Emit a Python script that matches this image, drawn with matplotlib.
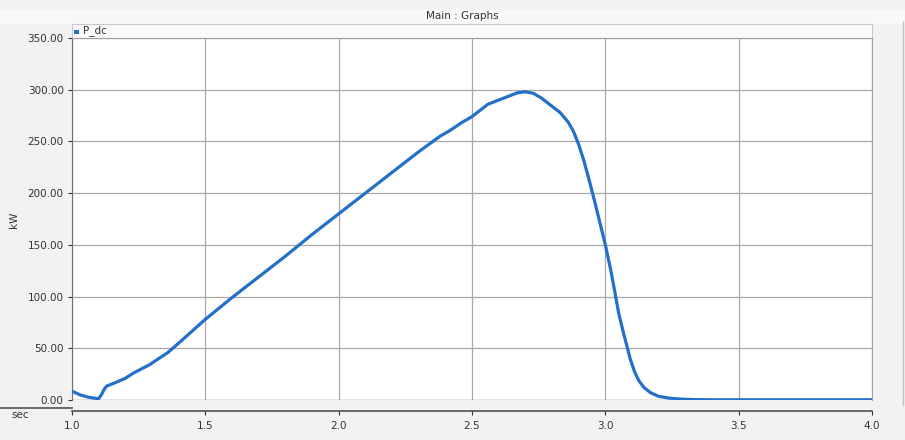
import matplotlib
matplotlib.use("Agg")
import matplotlib.pyplot as plt
from matplotlib.lines import Line2D
from matplotlib.patches import Rectangle

# DC power trace (time in s, power in kW)
t_sec = [1.00, 1.03, 1.06, 1.09, 1.10, 1.11, 1.12, 1.13, 1.16, 1.20, 1.23, 1.29,
         1.36, 1.40, 1.50, 1.60, 1.70, 1.80, 1.90, 2.00, 2.10, 2.20, 2.30, 2.38,
         2.42, 2.46, 2.50, 2.53, 2.56, 2.60, 2.64, 2.67, 2.70, 2.73, 2.76, 2.80,
         2.83, 2.86, 2.88, 2.90, 2.92, 2.94, 2.96, 2.98, 3.00, 3.02, 3.036, 3.05,
         3.065, 3.08, 3.093, 3.11, 3.125, 3.145, 3.17, 3.20, 3.24, 3.28, 3.33, 3.40,
         4.00]
p_dc = [8.5, 5.0, 2.8, 1.5, 1.3, 5.0, 10.0, 13.5, 16.5, 21.0, 26.0, 34.0,
        46.0, 55.0, 78.0, 99.0, 119.0, 139.0, 160.0, 180.0, 200.0, 220.0, 240.0, 255.0,
        261.0, 268.0, 274.0, 280.0, 286.0, 290.0, 294.0, 297.0, 298.0, 296.5, 292.0, 284.0,
        278.0, 269.0, 260.0, 247.0, 231.0, 212.0, 192.0, 171.0, 150.0, 126.0, 104.0, 84.0,
        68.0, 53.0, 40.0, 27.0, 19.0, 12.0, 7.0, 3.5, 1.8, 0.9, 0.4, 0.2,
        0.2]

x_ticks = [1.0, 1.5, 2.0, 2.5, 3.0, 3.5, 4.0]
y_ticks = [0, 50, 100, 150, 200, 250, 300, 350]

W, H = 905, 440
fig = plt.figure(figsize=(W / 100, H / 100), dpi=100, facecolor="#f2f2f2")

def fx(px):
    return px / W

def fy(py):
    return 1 - py / H

# title strip and legend strip
fig.patches.append(Rectangle((0, fy(24)), 1, fy(10) - fy(24), transform=fig.transFigure,
                             facecolor="#f8f8f8", edgecolor="none", zorder=-2))
fig.patches.append(Rectangle((fx(72), fy(38)), fx(872) - fx(72), fy(24) - fy(38),
                             transform=fig.transFigure, facecolor="#fafafa",
                             edgecolor="#c8c8c8", linewidth=0.8, zorder=-1))
fig.text(fx(462), fy(16), "Main : Graphs", ha="center", va="center",
         fontsize=7.5, color="#333333")

ax = fig.add_axes([fx(72), fy(400), fx(872) - fx(72), fy(38) - fy(400)])
ax.set_facecolor("white")
ax.plot(t_sec, p_dc, color="#2470c8", linewidth=2.3, solid_capstyle="round",
        solid_joinstyle="round", zorder=3)

ax.set_xlim(1.0, 4.0)
ax.set_ylim(0, 350)
ax.set_xticks(x_ticks)
ax.set_xticklabels([f"{v:.1f}" for v in x_ticks])
ax.set_yticks(y_ticks)
ax.set_yticklabels([f"{v:.2f}" for v in y_ticks])
ax.grid(True, color="#a8a8a8", linewidth=0.9)
ax.set_axisbelow(True)

for side in ("top", "right"):
    ax.spines[side].set_color("#a0a0a0")
ax.spines["left"].set_color("#707070")
ax.spines["bottom"].set_position(("outward", 8))
ax.spines["bottom"].set_color("#505050")
ax.spines["bottom"].set_linewidth(1.2)
ax.axhline(0, color="#a0a0a0", linewidth=1.0, zorder=2)

ax.tick_params(axis="both", labelsize=7.5, colors="#333333", length=3, width=0.8)
ax.tick_params(axis="x", pad=4)
ax.tick_params(axis="y", pad=3)

# extension of the time axis to the left edge
fig.add_artist(Line2D([0, fx(72)], [fy(408), fy(408)], color="#505050", linewidth=1.2))
fig.add_artist(Line2D([fx(903), fx(903)], [fy(22), fy(405)], color="#c0c0c0", linewidth=1.0))
fig.text(fx(20), fy(415), "sec", ha="center", va="center", fontsize=7.5, color="#333333")
fig.text(fx(14), fy(220), "kW", ha="center", va="center", rotation=90,
         fontsize=7.5, color="#333333")

# legend entry
fig.patches.append(Rectangle((fx(74), fy(34)), fx(5), fy(30) - fy(34), transform=fig.transFigure,
                             facecolor="#2470c8", edgecolor="none"))
fig.text(fx(83), fy(31), "P_dc", ha="left", va="center", fontsize=7.5, color="#333333")

fig.savefig("out.png", dpi=100, facecolor=fig.get_facecolor())
